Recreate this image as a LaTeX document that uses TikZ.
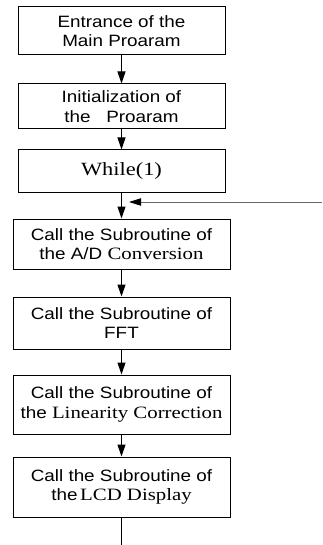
\documentclass[tikz,border=0pt]{standalone}
\usepackage{fontspec}
\setmainfont{Liberation Serif}[FakeStretch=1.2]
\newfontfamily\arialfont{Liberation Sans}[FakeStretch=1.15]
\usetikzlibrary{arrows.meta}
\newcommand{\serifpart}[1]{{\rmfamily\fontsize{13}{14.5}\selectfont #1}}

\begin{document}
\begin{tikzpicture}[x=0.75pt,y=-0.75pt,>={Triangle[length=9pt,width=6pt]}]
	\useasboundingbox (0,0) rectangle (322,545);
	\begin{scope}[line width=0.75pt]
		\tikzstyle{every node}=[draw,align=center,inner sep=0pt,minimum width=162.75pt,font=\arialfont\fontsize{12.3}{14.5}\selectfont];
		\path (121.5, 31  ) node (entrance) [minimum width=155.25pt,minimum height=36pt]    {Entrance of the\\Main Proaram};
		\path (121.5,106.5) node (init)     [minimum width=155.25pt,minimum height=33.75pt] {Initialization of\\the\ \ \ Proaram};
		\path (121.5,171.5) node (loop)     [minimum width=155.25pt,minimum height=32.25pt,font=\rmfamily\fontsize{14}{16}\selectfont] {While(1)};
		\path (121.5,244  ) node (adconv)   [minimum height=37.5pt]  {Call the Subroutine of\\the A/D \serifpart{Conversion}};
		\path (121.5,323  ) node (fft)      [minimum height=39pt]    {Call the Subroutine of\\FFT};
		\path (121.5,404.5) node (lincorr)  [minimum height=44.25pt] {Call the Subroutine of\\the \serifpart{Linearity Correction}};
		\path (121.5,487  ) node (lcd)      [minimum height=45pt]    {Call the Subroutine of\\the\kern2pt\serifpart{LCD Display}};
		\coordinate (back)    at (322,202);
		\coordinate (backtip) at (129,202);
		\coordinate (exit)    at (121.5,545);
		\draw[->] (entrance) -- (init);
		\draw[->] (init)     -- (loop);
		\draw[->] (loop)     -- (adconv);
		\draw[->] (adconv)   -- (fft);
		\draw[->] (fft)      -- (lincorr);
		\draw[->] (lincorr)  -- (lcd);
		\draw     (lcd)      -- (exit);
		\draw[-{Triangle[length=9pt,width=5.5pt,color=black]},draw=black!60] (back) -- (backtip);
	\end{scope}
\end{tikzpicture}
\end{document}
